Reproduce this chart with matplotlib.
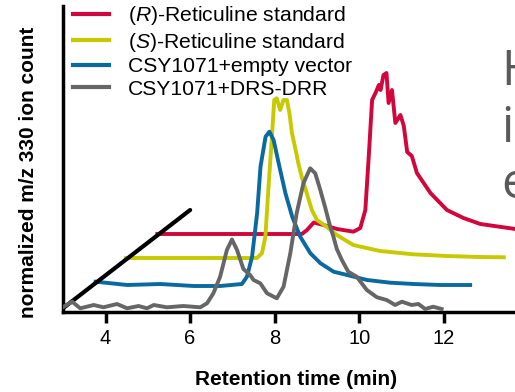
import matplotlib
matplotlib.use("Agg")
import matplotlib.pyplot as plt
import numpy as np

plt.rcParams['font.family'] = ['Liberation Sans', 'DejaVu Sans']
plt.rcParams['mathtext.fontset'] = 'custom'
plt.rcParams['mathtext.it'] = 'Liberation Sans:italic'
plt.rcParams['mathtext.rm'] = 'Liberation Sans'

# ---------------- data (raw traces) ----------------
labels = [r'($\it{R}$)-Reticuline standard', r'($\it{S}$)-Reticuline standard',
          'CSY1071+empty vector', 'CSY1071+DRS-DRR']
colors = ['#d0063c', '#c9c900', '#0a6aa0', '#666666']

red_t = [2.99, 6.41, 6.53, 6.69, 6.92, 7.24, 7.63, 7.79, 7.91, 7.99, 8.07, 8.15, 8.23, 8.27, 8.34,
         8.41, 8.46, 8.54, 8.62, 8.74, 8.82, 8.90, 9.01, 9.13, 9.45, 9.84, 10.23, 10.63, 11.46, 11.77]
red_i = [4.8, 4.8, 8.8, 16.3, 13.8, 9.8, 7.1, 10.8, 28.8, 81.8, 138.8, 145.8, 153.8, 148.8, 163.8,
         165.8, 135.8, 148.8, 115.8, 123.8, 112.8, 86.8, 82.8, 65.8, 45.8, 28.8, 20.8, 14.8, 9.8, 7.8]

yellow_t = [2.99, 4.51, 6.09, 6.21, 6.29, 6.36, 6.44, 6.50, 6.56, 6.64, 6.72, 6.80, 6.86, 6.92,
            6.99, 7.07, 7.15, 7.27, 7.39, 7.51, 7.74, 7.98, 8.37, 9.00, 9.79, 10.58, 11.37, 11.93]
yellow_i = [5.2, 5.2, 5.2, 9.9, 26.5, 73.2, 123.2, 163.2, 164.9, 153.2, 163.2, 163.2, 149.9, 129.9,
            116.5, 99.9, 86.5, 69.9, 53.2, 43.2, 36.5, 28.2, 18.2, 12.2, 8.9, 7.2, 6.2, 5.9]

blue_t = [3.02, 3.77, 4.55, 5.34, 5.97, 6.48, 6.60, 6.72, 6.84, 6.92, 7.04, 7.13, 7.23, 7.35,
          7.51, 7.67, 7.86, 8.10, 8.34, 8.65, 8.97, 9.44, 9.99, 10.54, 11.17, 11.88]
blue_i = [5.9, 2.6, 3.6, 1.6, 1.6, 3.6, 10.9, 30.9, 74.3, 120.9, 150.9, 155.9, 147.6, 124.3,
          94.3, 70.9, 50.9, 34.3, 24.3, 15.9, 12.6, 7.6, 4.9, 3.6, 2.6, 2.6]

gray_t = [3.01, 3.21, 3.40, 3.72, 3.95, 4.27, 4.51, 4.78, 4.98, 5.14, 5.45, 5.84, 6.24, 6.40, 6.55,
          6.71, 6.87, 6.99, 7.11, 7.26, 7.42, 7.50, 7.66, 7.82, 8.05, 8.21, 8.37, 8.52, 8.68, 8.84,
          8.96, 9.08, 9.19, 9.31, 9.39, 9.47, 9.59, 9.74, 9.94, 10.18, 10.42, 10.65, 10.85, 11.01,
          11.24, 11.40, 11.56, 11.75, 11.95]
gray_i = [5.3, 10.3, 3.7, 7.0, 4.7, 8.0, 3.7, 6.0, 3.7, 7.0, 4.7, 6.0, 4.7, 8.7, 18.7,
          35.3, 62.0, 72.5, 62.0, 43.0, 37.0, 32.0, 28.7, 18.7, 13.7, 25.3, 58.7, 98.7, 128.7, 143.7,
          138.7, 122.0, 105.3, 86.0, 75.3, 63.0, 52.0, 40.3, 35.3, 22.0, 14.7, 12.0, 7.0, 10.3,
          7.0, 8.0, 3.0, 5.3, 3.0]

# waterfall offsets (time, intensity) for red, yellow, blue, gray
x_offsets = [2.235, 1.49, 0.745, 0.0]
y_offsets = [73.2, 48.8, 24.4, 0.0]

# depth axis line
diag_x = [3.0, 6.0]
diag_y = [4.0, 102.0]

xticks = [4, 6, 8, 10, 12]
side_letters = ['H', 'i', 'e']

# ---------------- figure ----------------
W, H = 515, 392
fig = plt.figure(figsize=(W / 100, H / 100), dpi=100)
ax = fig.add_axes([63.3 / W, 80 / H, 465 / W, 306 / H])
ax.set_xlim(3.0, 14.0)
ax.set_ylim(0, 306)

series = [(red_t, red_i), (yellow_t, yellow_i), (blue_t, blue_i), (gray_t, gray_i)]
lines = []
for k, ((t, i), c, lab) in enumerate(zip(series, colors, labels)):
    xs = np.array(t) + x_offsets[k]
    ys = np.array(i) + y_offsets[k]
    if k == 3:
        ax.plot(diag_x, diag_y, color='black', lw=3.0, solid_capstyle='round', zorder=2.5)
    ln, = ax.plot(xs, ys, color=c, lw=2.8, label=lab, solid_joinstyle='round',
                  zorder=2 + k * 0.1 + (1 if k == 3 else 0))
    lines.append(ln)

ax.set_xticks(xticks)
ax.set_yticks([])
for s in ['top', 'right']:
    ax.spines[s].set_visible(False)
for s in ['left', 'bottom']:
    ax.spines[s].set_linewidth(2.5)
ax.tick_params(axis='x', length=8, width=2.5, labelsize=14.5, pad=4)

ax.set_xlabel('Retention time (min)', fontsize=15, fontweight='bold', labelpad=16)
fig.text(29 / W, 1 - 172 / H, 'normalized m/z 330 ion count', rotation=90,
         ha='center', va='center', fontsize=15, fontweight='bold')

leg = ax.legend(handles=lines, loc='upper left', bbox_to_anchor=(73 / W, 1 - 4 / H),
                bbox_transform=fig.transFigure, frameon=False, fontsize=15.2,
                handlelength=1.7, handletextpad=0.9, labelspacing=0.17,
                borderpad=0, borderaxespad=0)
for lh in leg.get_lines():
    lh.set_linewidth(3.0)

for j, letter in enumerate(side_letters):
    fig.text(501 / W, 1 - (85 + 56.5 * j) / H, letter, fontsize=35, color='#5a5a5a',
             family='Open Sans', ha='left', va='baseline')

fig.savefig('out.png', dpi=100)
